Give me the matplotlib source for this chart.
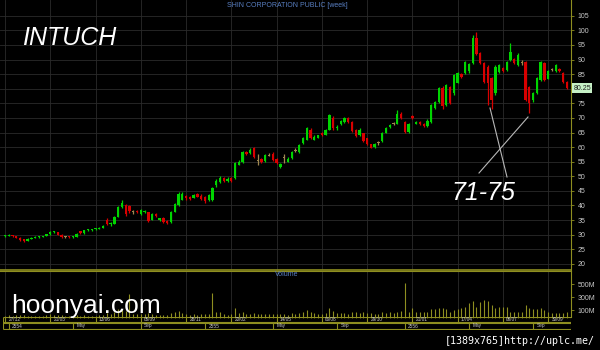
"""
INTUCH weekly candlestick chart (Shin Corporation), dark terminal style.
"""

import numpy as np
import pandas as pd
import matplotlib
matplotlib.use("Agg")
import matplotlib.pyplot as plt
from matplotlib.lines import Line2D

# weekly OHLC (baht), first week starts 27/12/2010
opens = [
    29.5, 29.6, 29.8, 29.5, 29.0, 28.4, 28.0, 28.6, 29.0, 29.2,
    29.3, 29.5, 30.2, 30.8, 30.8, 30.0, 29.3, 29.3, 29.1, 29.3,
    31.2, 30.6, 31.5, 31.6, 31.9, 32.0, 32.4, 35.2, 33.5, 33.8,
    36.2, 39.6, 40.0, 39.8, 37.8, 38.2, 37.0, 37.6, 37.6, 35.2,
    37.0, 35.2, 35.6, 34.6, 34.3, 37.8, 40.0, 42.0, 43.2, 43.0,
    42.6, 44.0, 43.4, 43.0, 41.8, 42.0, 47.0, 48.0, 49.5, 48.5,
    49.5, 49.5, 54.0, 54.8, 58.3, 58.0, 59.6, 55.5, 55.8, 55.2,
    57.2, 57.8, 56.0, 53.2, 56.5, 55.0, 56.3, 59.0, 58.3, 61.4,
    62.6, 66.0, 62.5, 63.2, 65.0, 64.2, 66.0, 70.0, 66.5, 67.8,
    68.5, 70.0, 68.5, 66.0, 64.0, 64.8, 63.0, 61.0, 60.0, 61.5,
    62.0, 65.0, 66.8, 68.0, 68.0, 71.5, 68.6, 65.2, 70.5, 68.0,
    68.5, 68.0, 67.2, 68.6, 73.4, 75.5, 80.3, 74.4, 80.5, 78.5,
    82.0, 85.0, 85.4, 86.0, 88.8, 97.4, 92.2, 88.8, 87.4, 83.7,
    78.5, 85.7, 87.2, 86.4, 89.8, 90.2, 88.0, 89.0, 89.1, 80.5,
    76.0, 78.5, 83.0, 88.8, 83.5, 86.5, 86.0, 86.8, 85.4, 82.4,
]
highs = [
    30.0, 30.2, 30.0, 29.7, 29.2, 28.6, 28.8, 29.2, 29.4, 29.5,
    29.7, 30.4, 31.2, 31.3, 31.0, 30.2, 29.5, 29.5, 29.5, 30.5,
    31.4, 31.7, 31.8, 32.1, 32.2, 32.6, 33.2, 35.6, 34.2, 36.5,
    39.8, 42.0, 40.6, 40.2, 38.4, 38.4, 38.8, 38.6, 37.9, 37.4,
    37.3, 35.8, 35.9, 34.9, 38.0, 41.0, 44.5, 44.6, 43.6, 43.3,
    44.0, 44.4, 43.8, 43.4, 44.0, 46.5, 49.0, 50.0, 49.8, 49.6,
    49.8, 54.8, 55.5, 58.5, 58.6, 59.6, 60.0, 57.5, 56.2, 57.6,
    58.0, 58.2, 56.4, 54.6, 57.5, 56.5, 58.6, 59.6, 61.0, 63.4,
    67.0, 66.4, 64.0, 64.3, 65.3, 66.3, 71.5, 70.5, 67.5, 69.4,
    70.4, 70.3, 68.8, 66.3, 66.4, 65.0, 63.2, 61.2, 61.4, 62.0,
    65.3, 67.0, 68.0, 68.6, 72.7, 72.0, 69.0, 68.3, 71.0, 69.0,
    69.0, 68.2, 69.5, 74.8, 75.8, 80.6, 80.8, 81.6, 81.0, 85.0,
    85.8, 85.4, 89.5, 88.8, 98.4, 99.5, 92.6, 89.2, 88.0, 84.0,
    88.0, 88.4, 87.6, 89.4, 95.6, 90.5, 92.4, 90.0, 89.6, 80.8,
    78.8, 84.0, 89.4, 89.2, 86.3, 87.0, 88.4, 87.2, 85.8, 82.8,
]
lows = [
    29.2, 29.4, 29.3, 28.8, 28.0, 27.6, 27.8, 28.4, 28.8, 29.0,
    29.1, 29.4, 30.0, 30.5, 29.8, 29.0, 29.0, 28.9, 29.0, 29.2,
    30.4, 30.4, 31.2, 31.3, 31.6, 31.8, 32.2, 33.2, 33.0, 33.6,
    36.0, 39.2, 36.5, 37.5, 37.2, 37.4, 36.8, 37.4, 34.5, 35.0,
    36.0, 34.8, 34.0, 33.6, 34.0, 37.6, 39.8, 41.8, 42.0, 42.0,
    42.4, 42.8, 41.8, 40.8, 41.5, 41.5, 46.2, 47.8, 48.2, 48.2,
    48.2, 49.2, 53.8, 54.5, 57.2, 57.8, 56.2, 53.8, 54.6, 55.0,
    56.8, 55.2, 54.2, 52.8, 54.5, 54.8, 56.0, 58.4, 58.0, 61.0,
    62.4, 62.8, 62.3, 63.0, 63.8, 64.0, 65.8, 66.0, 65.8, 67.5,
    68.2, 68.2, 65.2, 63.5, 63.8, 61.8, 60.6, 59.6, 59.8, 60.8,
    61.8, 64.8, 66.5, 67.5, 67.8, 69.5, 64.8, 65.0, 69.6, 67.8,
    67.6, 66.8, 67.0, 68.4, 73.2, 75.2, 73.2, 74.0, 74.6, 78.0,
    81.8, 83.6, 85.0, 85.4, 88.4, 91.6, 88.4, 82.0, 74.4, 73.2,
    78.0, 85.4, 85.6, 86.0, 89.5, 88.4, 87.8, 88.2, 75.8, 71.6,
    75.6, 78.2, 82.8, 82.8, 83.2, 86.0, 85.8, 85.6, 82.0, 80.0,
]
closes = [
    29.6, 29.8, 29.5, 29.0, 28.2, 28.0, 28.6, 29.0, 29.2, 29.3,
    29.5, 30.2, 30.8, 31.0, 30.0, 29.3, 29.3, 29.1, 29.3, 30.3,
    30.6, 31.5, 31.6, 31.9, 32.0, 32.4, 33.0, 33.5, 34.0, 36.2,
    39.6, 41.0, 37.0, 38.0, 37.8, 37.8, 38.5, 38.2, 34.8, 37.0,
    36.3, 35.5, 34.3, 34.0, 37.6, 40.5, 44.0, 44.0, 42.5, 42.3,
    43.5, 43.0, 42.3, 41.5, 43.5, 46.0, 48.5, 49.5, 48.5, 49.2,
    48.5, 54.5, 55.0, 58.3, 57.5, 59.0, 56.5, 55.5, 55.0, 57.3,
    57.2, 55.5, 54.5, 54.2, 56.5, 56.0, 58.3, 59.0, 60.7, 63.0,
    66.5, 63.0, 63.5, 64.0, 64.0, 66.0, 71.0, 66.5, 67.0, 69.0,
    70.0, 68.5, 65.5, 63.8, 66.0, 62.0, 61.0, 59.8, 61.0, 61.5,
    65.0, 66.5, 67.5, 68.0, 71.5, 70.0, 65.2, 68.0, 70.0, 68.6,
    68.0, 67.2, 69.0, 74.4, 75.5, 80.3, 74.0, 81.3, 75.0, 84.7,
    85.4, 84.0, 89.1, 88.5, 97.4, 92.0, 88.8, 82.4, 82.0, 76.2,
    87.4, 88.0, 86.0, 89.0, 92.5, 88.8, 91.5, 89.0, 76.2, 75.0,
    78.5, 83.7, 89.0, 83.0, 86.0, 86.5, 88.0, 86.0, 82.4, 80.25,
]
# volume, millions of shares
volumes = [
    20, 25, 20, 25, 30, 30, 20, 20, 15, 15,
    20, 30, 45, 30, 30, 25, 15, 15, 15, 25,
    20, 25, 20, 20, 20, 25, 30, 60, 40, 80,
    120, 100, 90, 350, 50, 40, 45, 40, 60, 45,
    35, 30, 35, 30, 60, 70, 90, 60, 40, 35,
    40, 35, 40, 40, 50, 360, 80, 70, 40, 35,
    40, 130, 60, 80, 50, 45, 60, 45, 40, 50,
    45, 40, 50, 40, 45, 35, 60, 45, 60, 80,
    110, 70, 55, 50, 45, 60, 130, 90, 60, 55,
    60, 50, 70, 80, 60, 70, 55, 60, 45, 50,
    80, 60, 70, 55, 80, 90, 510, 80, 130, 80,
    80, 80, 80, 115, 115, 130, 130, 115, 80, 105,
    115, 130, 155, 205, 240, 155, 220, 265, 240, 180,
    140, 155, 155, 155, 80, 80, 80, 80, 180, 140,
    115, 115, 130, 105, 80, 55, 55, 55, 65, 80,
]

start_date = "2010-12-27"
date_labels = ["27/12", "21/03", "13/06", "05/09", "28/11", "20/02", "14/05",
               "06/08", "29/10", "21/01", "17/04", "08/07", "30/09"]
price_ticks = [20, 25, 30, 35, 40, 45, 50, 55, 60, 65, 70, 75, 80, 85, 90, 95, 100, 105]
vol_ticks = [100, 300, 500]
vol_labels = ["100M", "300M", "500M"]

GREEN = "#00d400"
RED = "#d80000"
TAN = "#a08850"
OLIVE = "#8e8e20"
GRID = "#2b2b2b"
TXT = "#c8c8c8"
BLUE = "#5a80c4"

W, H = 600, 350
SP = 3.772          # px per week


def fx(px):
    return px / W


def fy(py):
    return 1 - py / H


def wk(px):
    # pixel column -> week index
    return (px - 5) / SP


plt.rcParams["font.family"] = ["Liberation Sans", "DejaVu Sans"]

fig = plt.figure(figsize=(6, 3.5), dpi=100, facecolor="black")
ax = fig.add_axes([0, fy(270), fx(571), 270 / H], facecolor="black")
axv = fig.add_axes([0, fy(317), fx(571), 46 / H], facecolor="black")
axd = fig.add_axes([fx(3), fy(330), fx(568), 13 / H], facecolor="black")

n = len(closes)
idx = np.arange(n)
o, h, l, c = (np.array(a, dtype=float) for a in (opens, highs, lows, closes))
cols = np.where(c > o, GREEN, np.where(c < o, RED, TAN))
dates = pd.date_range(start_date, periods=n, freq="7D")
tick_pos = idx[::12][:len(date_labels)]

# ---- price panel
for a in (ax, axv):
    a.set_xlim(wk(0), wk(571))
    for k in tick_pos:
        a.axvline(k, color=GRID, lw=0.6, zorder=0)

ax.set_ylim(17.9, 110.4)
ax.set_yticks(price_ticks)
# the last-price tag sits on top of the 80 label, as in the terminal
last = closes[-1]
ax.set_yticklabels(["" if abs(t - last) < 2.5 else str(t) for t in price_ticks])
ax.grid(axis="y", color=GRID, lw=0.6, zorder=0)
ax.vlines(idx, l, h, colors=cols, lw=0.9, zorder=2)
body = np.maximum(np.abs(c - o), 0.35)
ax.bar(idx, body, bottom=np.minimum(o, c) - np.where(c == o, 0.17, 0),
       width=0.62, color=cols, lw=0, zorder=3)

ax.yaxis.tick_right()
ax.set_xticks([])
ax.tick_params(axis="y", colors=OLIVE, labelcolor=TXT, labelsize=5,
               length=2, width=0.6, pad=3)
for s in ("top", "left"):
    ax.spines[s].set_visible(False)
ax.spines["right"].set_color(OLIVE)
ax.spines["right"].set_linewidth(0.8)
ax.spines["bottom"].set_color(OLIVE)
ax.spines["bottom"].set_linewidth(1.2)

# last price tag
ax.text(1.004, last, f"{last:.2f}", transform=ax.get_yaxis_transform(),
        fontsize=5, color="#202020", va="center", ha="left", zorder=5,
        bbox=dict(fc="#c6f0c6", ec="none", pad=1.0))

# ---- volume panel
axv.set_ylim(0, 697)
axv.vlines(idx, 0, volumes, colors=OLIVE, lw=0.8, zorder=2)
axv.yaxis.tick_right()
axv.set_xticks([])
axv.set_yticks(vol_ticks)
axv.set_yticklabels(vol_labels)
axv.tick_params(axis="y", colors=OLIVE, labelcolor=TXT, labelsize=5,
                length=2, width=0.6, pad=3)
for s in ("left", "bottom"):
    axv.spines[s].set_visible(False)
for s in ("top", "right"):
    axv.spines[s].set_color(OLIVE)
    axv.spines[s].set_linewidth(0.8)

# ---- date rows
x0, x1 = wk(3), wk(571)
axd.set_xlim(x0, x1)
axd.set_ylim(0, 13)
axd.axis("off")
for yy in (13, 8, 7, 1):
    axd.hlines(yy, x0, x1, color=OLIVE, lw=0.8)
axd.vlines([x0 + 0.1, x1 - 0.1], 1, 13, color=OLIVE, lw=0.8)
axd.vlines(idx, 11.9, 13, color=OLIVE, lw=0.5)
for k, lab in zip(tick_pos, date_labels):
    axd.vlines(k, 8, 13, color=OLIVE, lw=0.8)
    axd.text(k + 0.9, 10.4, lab, fontsize=3.4, color=TXT, va="center", ha="left")

for i in range(1, n):
    m = dates[i].month
    if m != dates[i - 1].month and m in (1, 5, 9):
        lab = str(dates[i].year + 543) if m == 1 else dates[i].strftime("%b")
        axd.vlines(i, 1, 7, color=OLIVE, lw=0.8)
        axd.text(i + 0.9, 4.0, lab, fontsize=3.4, color=TXT, va="center", ha="left")

# ---- captions
fig.text(fx(287), fy(5.5), "SHIN CORPORATION PUBLIC [week]", color=BLUE,
         fontsize=5, ha="center", va="center")
fig.text(fx(287), fy(275), "Volume", color=BLUE, fontsize=5,
         ha="center", va="center")
fig.text(fx(22), fy(45), "INTUCH", color="white", fontsize=18,
         style="italic", ha="left", va="baseline")
fig.text(fx(451), fy(200), "71-75", color="white", fontsize=18,
         style="italic", ha="left", va="baseline")
fig.text(fx(11), fy(313), "hoonyai.com", color="white", fontsize=19,
         ha="left", va="baseline")
fig.text(fx(445), fy(344), "[1389x765]http://uplc.me/", color="white",
         fontsize=7.2, family="DejaVu Sans Mono", ha="left", va="baseline")

# pointer lines from the 71-75 note
for (xa, ya), (xb, yb) in [((490, 108), (507, 177)), ((528, 117), (479, 173))]:
    fig.add_artist(Line2D([fx(xa), fx(xb)], [fy(ya), fy(yb)],
                          color="#b8b8b8", lw=0.8))

fig.savefig("out.png", dpi=100, facecolor="black")
